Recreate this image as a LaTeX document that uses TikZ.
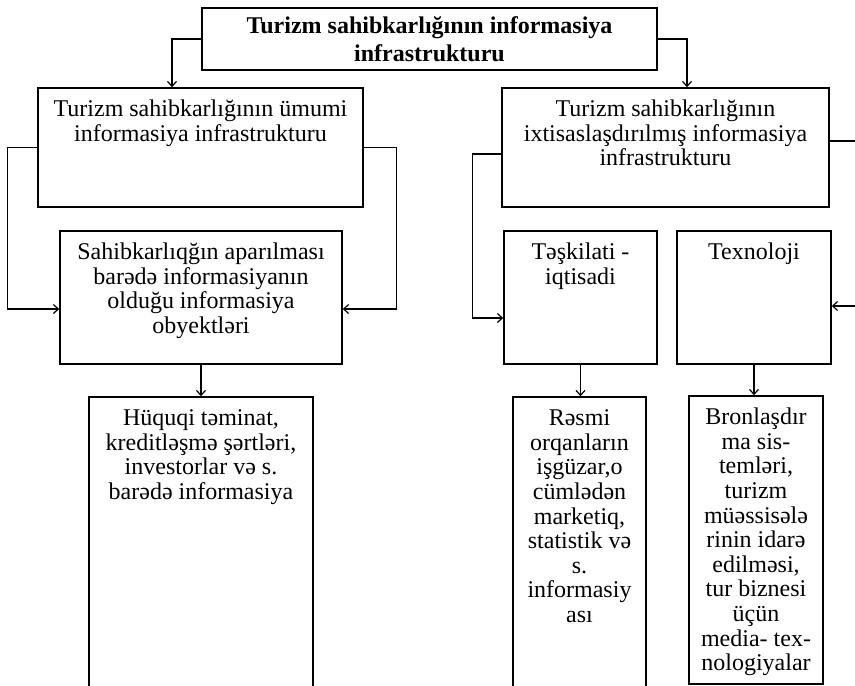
\documentclass[tikz,border=0pt]{standalone}
\usepackage{fontspec}
\setmainfont{Liberation Serif}
\usetikzlibrary{arrows.meta}
\tikzset{>={Straight Barb[length=5pt,width=9pt]},%
  blk/.style={draw,line width=1.5pt,inner sep=0pt,%
    font=\fontsize{24}{24.6}\selectfont},%
  ttl/.style={draw,line width=2.5pt,inner sep=0pt,align=center,%
    font=\bfseries\fontsize{24}{27.5}\selectfont},%
  conn/.style={line width=1.2pt,->}}
\newcommand{\blktext}[3]{\parbox[c][#2][t]{#1}{\centering\vspace*{11.5pt}\strut#3}}

\begin{document}
\begin{tikzpicture}[x=1pt,y=-1pt]
    \useasboundingbox (0,0) rectangle (855,686);
    \clip (0,0) rectangle (855,686);
    \node[ttl,minimum width=455pt,minimum height=62pt] (title) at (429.5,39)
      {Turizm sahibkarlığının informasiya\\infrastrukturu};
    % left branch
    \node[blk] (gen) at (200.5,147.5)
      {\blktext{325pt}{119pt}{Turizm sahibkarlığının ümumi\\informasiya infrastrukturu}};
    \node[blk] (obj) at (201,297.5)
      {\blktext{282pt}{133pt}{Sahibkarlıqğın aparılması\\barədə informasiyanın\\olduğu informasiya\\obyektləri}};
    \node[blk] (law) at (201,558.5)
      {\blktext{224pt}{323pt}{Hüquqi təminat,\\kreditləşmə şərtləri,\\investorlar və s.\\barədə informasiya}};
    % right branch
    \node[blk] (spec) at (665.5,147.5)
      {\blktext{327pt}{119pt}{Turizm sahibkarlığının\\ixtisaslaşdırılmış informasiya\\infrastrukturu}};
    \node[blk] (org) at (580.5,297.5) {\blktext{153pt}{133pt}{Təşkilati -\\iqtisadi}};
    \node[blk] (tech) at (754,297.5) {\blktext{154pt}{133pt}{Texnoloji}};
    \node[blk] (res) at (579.5,558.5)
      {\blktext{133pt}{323pt}{Rəsmi\\orqanların\\işgüzar,o\\cümlədən\\marketiq,\\statistik və\\s.\\informasiy\\ası}};
    \node[blk] (bron) at (756,540)
      {\blktext{134pt}{288pt}{Bronlaşdır\\ma sis-\\temləri,\\turizm\\müəssisələ\\rinin idarə\\edilməsi,\\tur biznesi\\üçün\\media- tex-\\nologiyalar}};

    \draw[conn] (title.west) -| ([xshift=-28.5pt]gen.north);
    \draw[conn] (title.east) -| ([xshift=21.5pt]spec.north);
    \draw[conn] (gen.west) -- ++(-30,0) |- ([yshift=-11.5pt]obj.west);
    \draw[conn] (gen.east) -- ++(33,0) |- ([yshift=-11.5pt]obj.east);
    \draw[conn] (obj.south) -- (obj.south |- law.north);
    \draw[conn] ([yshift=-6.5pt]spec.west) -- ++(-29,0) |- ([yshift=-20.5pt]org.west);
    \draw[conn] ([yshift=6.5pt]spec.east) -- ++(40,0) |- ([yshift=-8.5pt]tech.east);
    \draw[conn] (org.south) -- (org.south |- res.north);
    \draw[conn] (tech.south) -- (tech.south |- bron.north);
  \end{tikzpicture}
\end{document}
